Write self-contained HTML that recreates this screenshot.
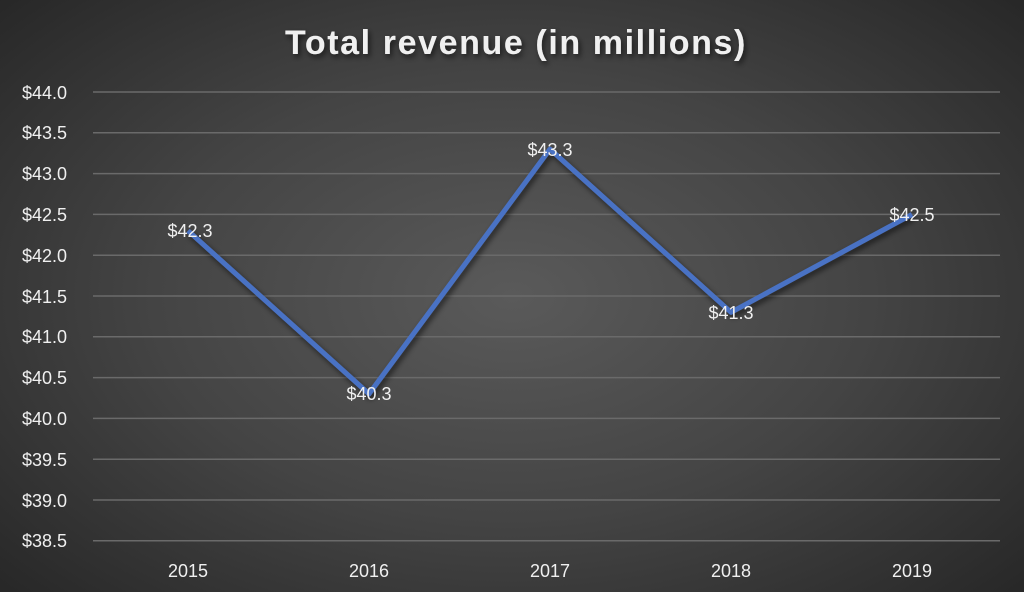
<!DOCTYPE html>
<html><head><meta charset="utf-8"><style>
html,body{margin:0;padding:0;}
body{width:1024px;height:592px;overflow:hidden;background:radial-gradient(ellipse 70% 75% at 50% 50%,#5a5a5a 0%,#444 50%,#262626 100%);}
svg{position:absolute;left:0;top:0;}
text{font-family:"Liberation Sans",sans-serif;fill:#f0f0f0;}
</style></head><body>
<svg width="1024" height="592" viewBox="0 0 1024 592">
<defs><filter id="sh" x="-10%" y="-10%" width="120%" height="130%"><feDropShadow dx="2" dy="3" stdDeviation="3" flood-color="#000" flood-opacity="0.6"/></filter></defs>
<text x="516" y="54" text-anchor="middle" font-size="34" font-weight="bold" letter-spacing="1.6" fill="#fff" filter="url(#sh)">Total revenue (in millions)</text>
<g stroke="#6a6a6a" stroke-width="1.5">
<line x1="93" x2="1000" y1="92" y2="92"/><line x1="93" x2="1000" y1="132.8" y2="132.8"/>
<line x1="93" x2="1000" y1="173.6" y2="173.6"/><line x1="93" x2="1000" y1="214.4" y2="214.4"/>
<line x1="93" x2="1000" y1="255.2" y2="255.2"/><line x1="93" x2="1000" y1="296" y2="296"/>
<line x1="93" x2="1000" y1="336.8" y2="336.8"/><line x1="93" x2="1000" y1="377.6" y2="377.6"/>
<line x1="93" x2="1000" y1="418.4" y2="418.4"/><line x1="93" x2="1000" y1="459.2" y2="459.2"/>
<line x1="93" x2="1000" y1="500" y2="500"/><line x1="93" x2="1000" y1="540.8" y2="540.8"/>
</g>
<g font-size="18" text-anchor="end">
<text x="67" y="99">$44.0</text><text x="67" y="139">$43.5</text><text x="67" y="180">$43.0</text>
<text x="67" y="221">$42.5</text><text x="67" y="262">$42.0</text><text x="67" y="303">$41.5</text>
<text x="67" y="343">$41.0</text><text x="67" y="384">$40.5</text><text x="67" y="425">$40.0</text>
<text x="67" y="466">$39.5</text><text x="67" y="507">$39.0</text><text x="67" y="547">$38.5</text>
</g>
<g font-size="18" text-anchor="middle">
<text x="188" y="577">2015</text><text x="369" y="577">2016</text><text x="550" y="577">2017</text>
<text x="731" y="577">2018</text><text x="912" y="577">2019</text>
</g>
<polyline points="188,230.7 369,393.9 550,149.1 731,312.3 912,214.4" fill="none" stroke="#4a72c4" stroke-width="5" stroke-linejoin="round" filter="url(#sh)"/>
<g font-size="18" text-anchor="middle">
<text x="190" y="237">$42.3</text><text x="369" y="400">$40.3</text><text x="550" y="156">$43.3</text>
<text x="731" y="319">$41.3</text><text x="912" y="221">$42.5</text>
</g>
</svg>
</body></html>
